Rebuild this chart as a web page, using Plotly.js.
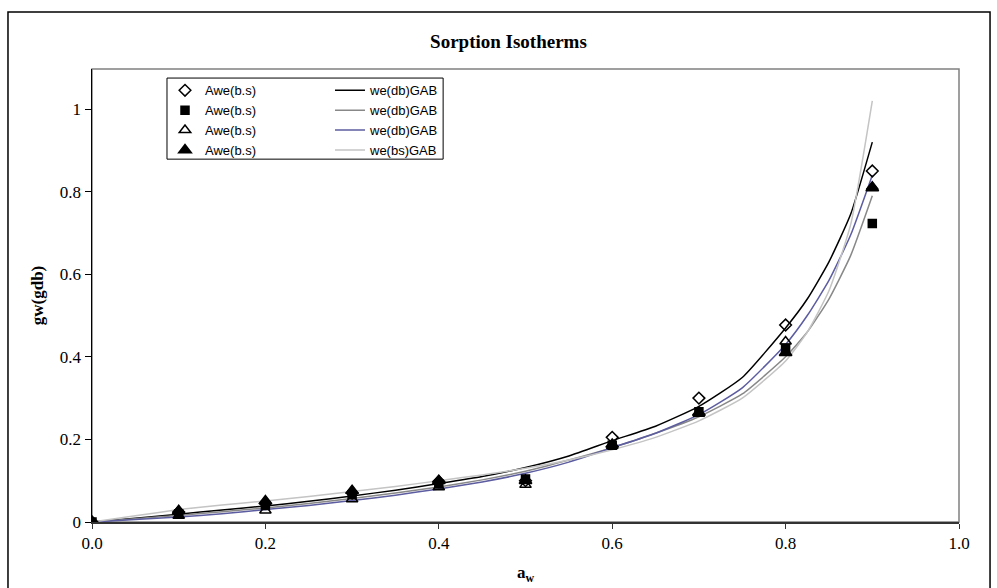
<!DOCTYPE html>
<html>
<head>
<meta charset="utf-8">
<script src="https://cdn.plot.ly/plotly-3.0.1.min.js"></script>
<style>html,body{margin:0;padding:0;background:#fff;}#chart{width:997px;height:588px;}</style>
</head>
<body>
<div id="chart"></div>
<script>
// measured points
const awPoints = [0, 0.1, 0.2, 0.3, 0.4, 0.5, 0.6, 0.7, 0.8, 0.9];
const expDiamond  = [0, 0.024, 0.045, 0.070, 0.098, 0.100, 0.205, 0.300, 0.477, 0.850];
const expSquare   = [0, 0.020, 0.040, 0.066, 0.092, 0.104, 0.186, 0.267, 0.421, 0.723];
const expTriOpen  = [0, 0.015, 0.028, 0.055, 0.084, 0.090, 0.184, 0.262, 0.437, 0.812];
const expTriFill  = [0, 0.027, 0.051, 0.076, 0.100, 0.100, 0.188, 0.265, 0.410, 0.809];

// GAB curves
const awCurve = [0, 0.05, 0.1, 0.15, 0.2, 0.25, 0.3, 0.35, 0.4, 0.45, 0.5, 0.55, 0.6, 0.65, 0.7, 0.75, 0.8, 0.825, 0.85, 0.875, 0.9];
const gab1 = [0, 0.009, 0.019, 0.029, 0.039, 0.050, 0.063, 0.077, 0.093, 0.110, 0.132, 0.160, 0.197, 0.232, 0.280, 0.350, 0.470, 0.540, 0.630, 0.745, 0.920];
const gab2 = [0, 0.008, 0.016, 0.025, 0.034, 0.045, 0.057, 0.070, 0.085, 0.102, 0.123, 0.150, 0.180, 0.215, 0.255, 0.310, 0.400, 0.460, 0.540, 0.645, 0.790];
const gab3 = [0, 0.006, 0.012, 0.020, 0.030, 0.040, 0.052, 0.065, 0.080, 0.097, 0.118, 0.145, 0.180, 0.215, 0.260, 0.325, 0.430, 0.500, 0.585, 0.695, 0.840];
const gab4 = [0, 0.015, 0.030, 0.041, 0.051, 0.062, 0.074, 0.086, 0.100, 0.114, 0.130, 0.150, 0.175, 0.205, 0.245, 0.300, 0.390, 0.460, 0.560, 0.720, 1.020];

const markerNames = ["Awe(b.s)", "Awe(b.s)", "Awe(b.s)", "Awe(b.s)"];
const lineNames = ["we(db)GAB", "we(db)GAB", "we(db)GAB", "we(bs)GAB"];

const xTicks = [0, 0.2, 0.4, 0.6, 0.8, 1.0];
const xTickText = ["0.0", "0.2", "0.4", "0.6", "0.8", "1.0"];
const yTicks = [0, 0.2, 0.4, 0.6, 0.8, 1];
const yTickText = ["0", "0.2", "0.4", "0.6", "0.8", "1"];

const lineColors = ["#000000", "#888888", "#5c5ca0", "#c4c4c4"];
const gabs = [gab1, gab2, gab3, gab4];

const traces = [];
gabs.forEach((g, i) => {
  traces.push({
    x: awCurve, y: g, type: "scatter", mode: "lines", name: lineNames[i],
    line: {color: lineColors[i], width: 1.5, shape: "spline", smoothing: 0.5},
    legend: "legend2", legendrank: i + 1
  });
});
const exps = [expDiamond, expSquare, expTriOpen, expTriFill];
const syms = ["diamond-open", "square", "triangle-up-open", "triangle-up"];
const sizes = [9, 8, 10, 11];
exps.forEach((e, i) => {
  traces.push({
    x: awPoints, y: e, type: "scatter", mode: "markers", name: markerNames[i],
    marker: {symbol: syms[i], size: sizes[i], color: "#000000", line: {color: "#000000", width: 1.5}},
    legend: "legend", legendrank: i + 1
  });
});

const serif = "Liberation Serif, Times New Roman, serif";
const legFont = {family: "Liberation Sans, Arial, sans-serif", size: 13, color: "#000"};
const layout = {
  width: 997, height: 588,
  margin: {l: 92, r: 38, t: 69, b: 66},
  paper_bgcolor: "#ffffff", plot_bgcolor: "#ffffff",
  title: {text: "<b>Sorption Isotherms</b>", font: {family: serif, size: 19, color: "#000"},
          x: 0.51, xref: "container", y: 0.93, yref: "container", yanchor: "middle", xanchor: "center"},
  xaxis: {
    range: [0, 1.0], tickvals: xTicks, ticktext: xTickText,
    showgrid: false, zeroline: false, showline: true, linecolor: "#333333", linewidth: 2,
    ticks: "outside", ticklen: 5, tickcolor: "#333333",
    tickfont: {family: serif, size: 17, color: "#000"},
    title: {text: "<b>a<sub>w</sub></b>", font: {family: serif, size: 17, color: "#000"}, standoff: 14}
  },
  yaxis: {
    range: [0, 1.097], tickvals: yTicks, ticktext: yTickText,
    showgrid: false, zeroline: false, showline: true, linecolor: "#000000", linewidth: 1.5,
    ticks: "outside", ticklen: 6, tickcolor: "#000",
    tickfont: {family: serif, size: 17, color: "#000"},
    title: {text: "<b>gw(gdb)</b>", font: {family: serif, size: 17, color: "#000"}, standoff: 12}
  },
  showlegend: true,
  legend: {
    orientation: "v", x: 0.0842, y: 0.986, xanchor: "left", yanchor: "top",
    bgcolor: "rgba(0,0,0,0)", borderwidth: 0, tracegroupgap: 0,
    font: legFont, traceorder: "normal"
  },
  legend2: {
    orientation: "v", x: 0.2745, y: 0.986, xanchor: "left", yanchor: "top",
    bgcolor: "rgba(0,0,0,0)", borderwidth: 0, tracegroupgap: 0,
    font: legFont, traceorder: "normal"
  },
  shapes: [
    {type: "rect", xref: "paper", yref: "paper", x0: 0, x1: 1, y0: 0, y1: 1,
     line: {color: "#808080", width: 1.5}, layer: "below"},
    {type: "rect", xref: "paper", yref: "paper", x0: -0.0969, x1: 1.0358, y0: -0.16, y1: 1.1258,
     line: {color: "#000000", width: 1.5}, layer: "below"},
    {type: "rect", xref: "paper", yref: "paper", x0: 0.0865, x1: 0.405, y0: 0.801, y1: 0.980,
     fillcolor: "#ffffff", line: {color: "#000000", width: 1}, layer: "above"}
  ]
};

Plotly.newPlot("chart", traces, layout, {displayModeBar: false, staticPlot: true});
</script>
</body>
</html>
